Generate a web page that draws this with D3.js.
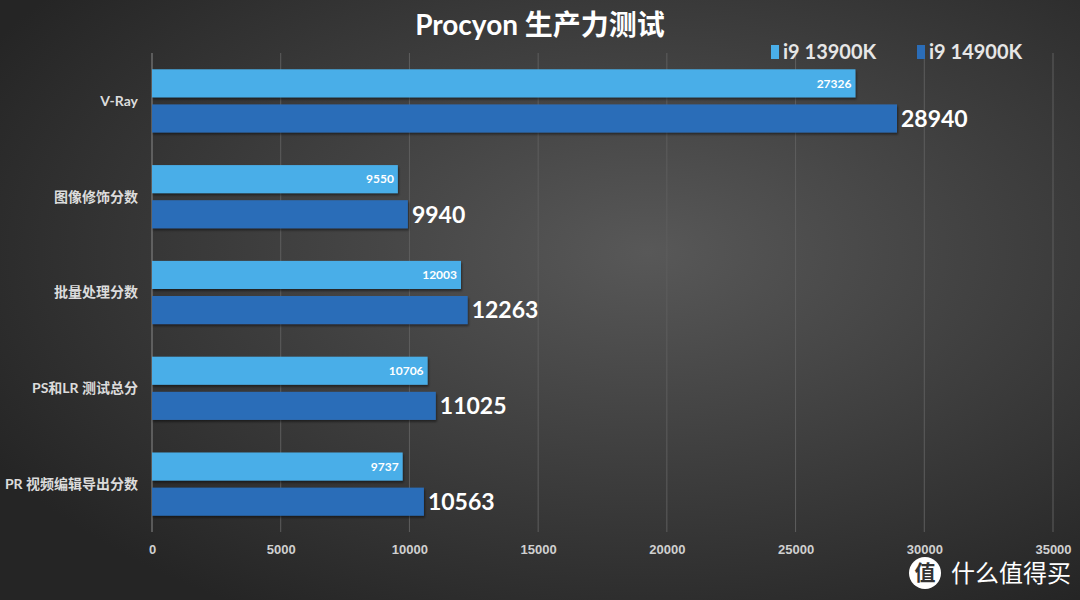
<!DOCTYPE html>
<html>
<head>
<meta charset="utf-8">
<script src="https://cdn.jsdelivr.net/npm/d3@7"></script>
<style>
  html, body { margin: 0; padding: 0; background: #333; }
  svg { display: block; font-family: Lato, "Noto Sans CJK SC", sans-serif; }
</style>
</head>
<body>
<svg id="chart" width="1080" height="600"></svg>
<script>
const categories = ["V-Ray", "图像修饰分数", "批量处理分数", "PS和LR 测试总分", "PR 视频编辑导出分数"];
const seriesNames = ["i9 13900K", "i9 14900K"];
const values13900 = [27326, 9550, 12003, 10706, 9737];
const values14900 = [28940, 9940, 12263, 11025, 10563];
const xTicks = [0, 5000, 10000, 15000, 20000, 25000, 30000, 35000];

const colours = ["#4aaee8", "#2b6db8"];

const svg = d3.select("#chart"),
  width = 1080,
  height = 600,
  margin = { top: 53, right: 27, bottom: 68, left: 152 };

const defs = svg.append("defs");
const bg = defs.append("radialGradient")
  .attr("id", "bg")
  .attr("cx", "60%").attr("cy", "42%").attr("r", "70%");
bg.append("stop").attr("offset", "0%").attr("stop-color", "#585858");
bg.append("stop").attr("offset", "100%").attr("stop-color", "#252525");

const shadow = defs.append("filter").attr("id", "shadow")
  .attr("x", "-5%").attr("y", "-20%").attr("width", "110%").attr("height", "160%");
shadow.append("feDropShadow")
  .attr("dx", 1).attr("dy", 2).attr("stdDeviation", 1.2)
  .attr("flood-color", "#000").attr("flood-opacity", 0.45);

svg.append("rect").attr("width", width).attr("height", height).attr("fill", "url(#bg)");

const x = d3.scaleLinear()
  .domain([0, 35000])
  .range([margin.left, width - margin.right]);

const y = d3.scaleBand()
  .domain(categories)
  .range([margin.top, height - margin.bottom])
  .paddingInner(0.34)
  .paddingOuter(0.17);

const ySub = d3.scaleBand()
  .domain([0, 1])
  .range([0, y.bandwidth()])
  .paddingInner(0.2);

// gridlines
svg.append("g")
  .selectAll("line")
  .data(xTicks)
  .join("line")
  .attr("x1", d => x(d)).attr("x2", d => x(d))
  .attr("y1", margin.top).attr("y2", height - margin.bottom)
  .attr("stroke", d => d === 0 ? "#8a8a8a" : "#5e5e5e")
  .attr("stroke-width", 1);

// x axis labels
const xAxis = d3.axisBottom(x).tickValues(xTicks).tickFormat(d3.format("d")).tickSize(0).tickPadding(13);
const xg = svg.append("g")
  .attr("transform", `translate(0,${height - margin.bottom})`)
  .call(xAxis);
xg.select(".domain").remove();
xg.selectAll("text")
  .attr("fill", "#d0d0d0")
  .attr("font-size", 13)
  .attr("font-weight", "bold");

// category labels
svg.append("g")
  .selectAll("text")
  .data(categories)
  .join("text")
  .attr("x", margin.left - 14)
  .attr("y", d => y(d) + y.bandwidth() / 2)
  .attr("dy", "0.35em")
  .attr("text-anchor", "end")
  .attr("fill", "#dcdcdc")
  .attr("font-size", 14)
  .attr("font-weight", "bold")
  .text(d => d);

const rows = categories.map((c, i) => ({ c, v: [values13900[i], values14900[i]] }));

const group = svg.append("g")
  .selectAll("g")
  .data(rows)
  .join("g")
  .attr("transform", d => `translate(0,${y(d.c)})`);

group.selectAll("rect")
  .data(d => d.v.map((v, k) => ({ v, k })))
  .join("rect")
  .attr("x", x(0))
  .attr("y", d => ySub(d.k))
  .attr("width", d => x(d.v) - x(0))
  .attr("height", ySub.bandwidth())
  .attr("fill", d => colours[d.k])
  .attr("filter", "url(#shadow)");

// small labels inside light bars
group.append("text")
  .attr("x", d => x(d.v[0]) - 4)
  .attr("y", ySub(0) + ySub.bandwidth() / 2)
  .attr("dy", "0.35em")
  .attr("text-anchor", "end")
  .attr("fill", "#fff")
  .attr("font-size", 12)
  .attr("font-weight", "bold")
  .text(d => d.v[0]);

// large labels after dark bars
group.append("text")
  .attr("x", d => x(d.v[1]) + 4)
  .attr("y", ySub(1) + ySub.bandwidth() / 2)
  .attr("dy", "0.36em")
  .attr("fill", "#fff")
  .attr("font-size", 23)
  .attr("font-weight", "bold")
  .text(d => d.v[1]);

// title
svg.append("text")
  .attr("x", width / 2)
  .attr("y", 35)
  .attr("text-anchor", "middle")
  .attr("fill", "#fff")
  .attr("font-size", 28)
  .attr("font-weight", "bold")
  .text("Procyon 生产力测试");

// legend
const legendX = [771, 917];
const legend = svg.append("g")
  .selectAll("g")
  .data(seriesNames)
  .join("g")
  .attr("transform", (d, i) => `translate(${legendX[i]},52)`);
legend.append("rect")
  .attr("x", 0).attr("y", -7).attr("width", 8).attr("height", 14)
  .attr("fill", (d, i) => colours[i]);
legend.append("text")
  .attr("x", 12)
  .attr("dy", "0.36em")
  .attr("fill", "#e6e6e6")
  .attr("font-size", 20)
  .attr("font-weight", "bold")
  .text(d => d);

// watermark
const wm = svg.append("g").attr("transform", "translate(925,573)");
wm.append("circle").attr("r", 16).attr("fill", "#fff");
wm.append("text")
  .attr("text-anchor", "middle").attr("dy", "0.35em")
  .attr("font-size", 21).attr("font-weight", "bold").attr("fill", "#333")
  .text("值");
wm.append("text")
  .attr("x", 26).attr("dy", "0.36em")
  .attr("font-size", 24).attr("fill", "#fff")
  .text("什么值得买");
</script>
</body>
</html>
